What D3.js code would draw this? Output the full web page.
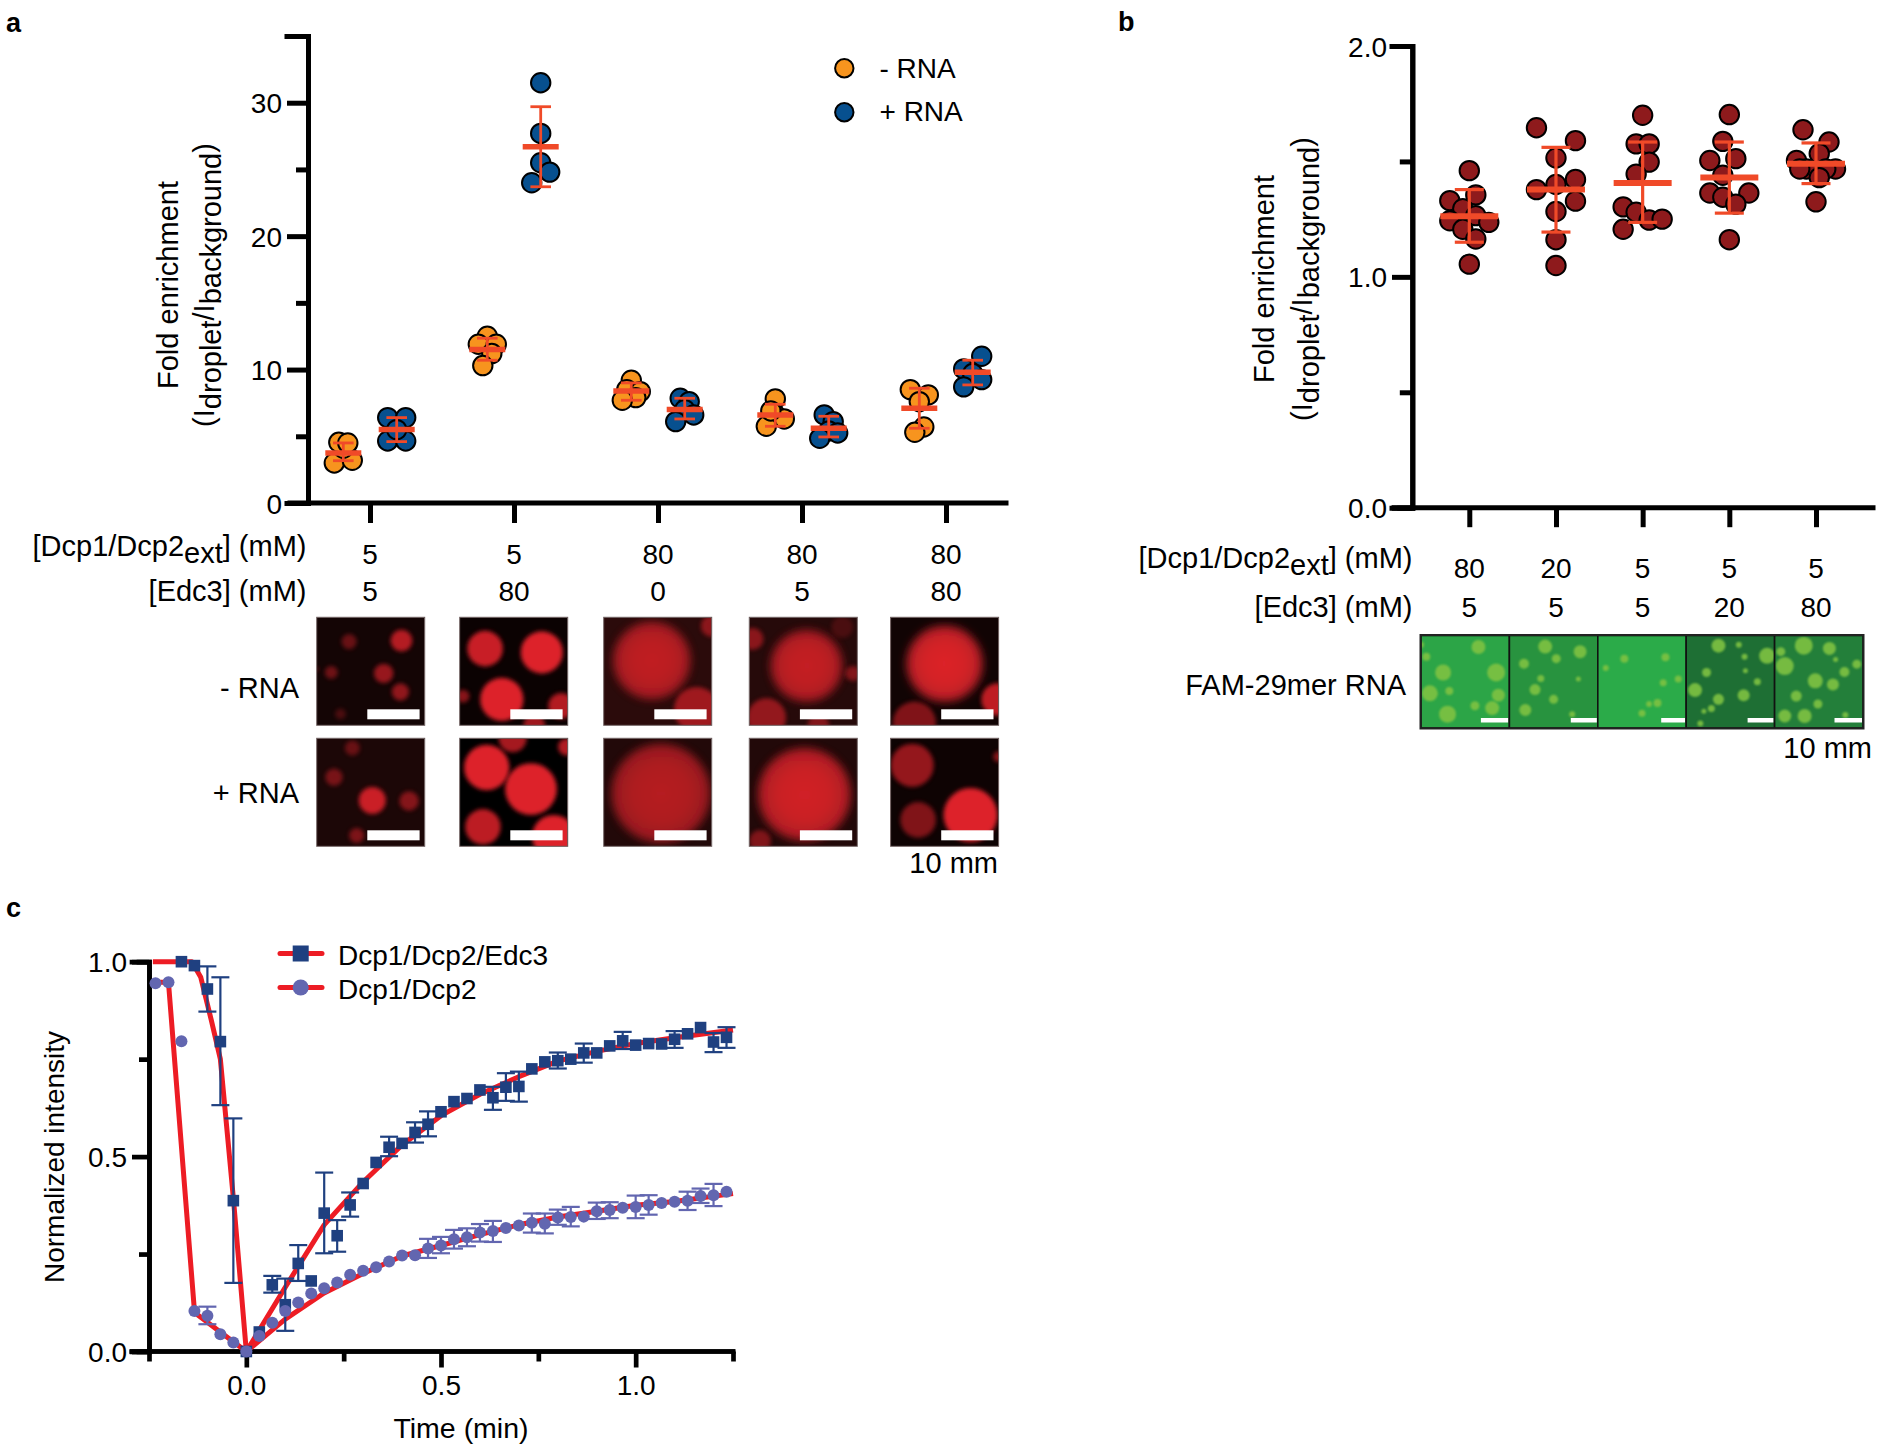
<!DOCTYPE html>
<html><head><meta charset="utf-8">
<script src="https://cdn.jsdelivr.net/npm/d3@7"></script>
<style>
html,body{margin:0;padding:0;background:#fff}
text{font-family:"Liberation Sans",Arial,sans-serif;fill:#000}
</style></head><body><svg id="fig" width="1882" height="1453"></svg>
<script>
// ---------- panel a ----------
const aDcp = ["5","5","80","80","80"];
const aEdc = ["5","80","0","5","80"];
const aSeries = ["- RNA","+ RNA"];
const aMinus = [[3.0,3.2,4.1,4.55,4.5],[12.5,11.9,11.9,11.2,10.3],[9.2,8.5,8.35,7.9,7.7],[7.8,6.6,6.3,5.75,6.9],[8.5,8.1,7.6,5.7,5.3]];
const aMinusSlot = [[-1,1,0,-.5,.5],[0,-1,1,.5,-.5],[0,-.5,1,.5,-1],[0,0,1,-1,-.5],[-1,1,0,.5,-.5]];
const aPlus = [[6.4,6.4,4.65,4.65,5.5],[31.5,27.7,25.5,24.8,24.0],[7.85,7.6,7.0,6.6,6.1],[6.6,6.1,5.4,5.25,4.85],[11,10.05,9.7,9.25,8.7]];
const aPlusSlot = [[-1,1,-1,1,0],[0,0,0,1,-1],[-.5,.5,0,1,-1],[-.5,.5,0,1,-1],[1,-1,0,1,-1]];
const aMinusMean = [3.75,11.5,8.4,6.6,7.1], aMinusHi = [4.5,12.35,9.0,7.4,8.6], aMinusLo = [3.17,10.7,7.7,5.75,5.6];
const aPlusMean = [5.5,26.7,7.0,5.6,9.8], aPlusHi = [6.4,29.7,7.85,6.5,10.7], aPlusLo = [4.6,23.7,6.3,4.95,8.85];
// ---------- panel b ----------
const bDcp = ["80","20","5","5","5"];
const bEdc = ["5","5","5","20","80"];
const bValues = [
 [1.46,1.33,1.355,1.295,1.265,1.243,1.236,1.206,1.164,1.055],
 [1.646,1.59,1.515,1.422,1.4,1.378,1.328,1.283,1.161,1.049],
 [1.70,1.576,1.576,1.497,1.445,1.303,1.28,1.246,1.25,1.206],
 [1.703,1.587,1.512,1.504,1.44,1.363,1.363,1.345,1.315,1.161],
 [1.637,1.584,1.534,1.504,1.467,1.467,1.467,1.467,1.43,1.325]];
const bSlot = [[0,-3,1,-1,1,-3,3,-1,1,0],[-3,3,0,3,0,-3,3,0,0,0],[0,-1,1,1,-1,-3,-1,1,3,-3],[0,-1,1,-3,-1,-3,3,-1,1,0],[-2,2,.5,-3,-1.5,3,-2.5,1.5,.5,0]];
const bMean = [1.263,1.378,1.407,1.43,1.49], bHi = [1.378,1.561,1.584,1.584,1.58], bLo = [1.15,1.194,1.236,1.276,1.404];
// ---------- panel c ----------
const cEdcTime = [-5,-4,-3,-2,-1,0,1,2,3,4,5,6,7,8,9,10,11,12,13,14,15,16,17,18,19,20,21,22,23,24,25,26,27,28,29,30,31,32,33,34,35,36,37].map(d=>d/30);
const cEdcVal = [1,.99,.93,.795,.387,0,.05,.171,.12,.226,.181,.355,.297,.376,.431,.485,.524,.534,.562,.583,.615,.641,.649,.671,.651,.678,.68,.725,.743,.746,.75,.766,.766,.784,.797,.786,.79,.789,.801,.815,.831,.794,.806];
const cDcpTime = [-7,-6,-5,-4,-3,-2,-1,0,1,2,3,4,5,6,7,8,9,10,11,12,13,14,15,16,17,18,19,20,21,22,23,24,25,26,27,28,29,30,31,32,33,34,35,36,37].map(d=>d/30);
const cDcpVal = [.945,.947,.796,.104,.092,.044,.023,0,.04,.074,.104,.126,.149,.162,.177,.197,.207,.216,.231,.246,.247,.264,.272,.288,.293,.305,.309,.317,.323,.33,.328,.344,.345,.346,.36,.363,.369,.371,.376,.381,.384,.387,.399,.401,.41];
const cEdcErr = [[-3,.988,.872],[-2,.96,.632],[-1,.598,.176],[2,.194,.151],[3,.187,.053],[4,.273,.181],[6,.459,.252],[7,.337,.256],[8,.408,.346],[11,.551,.501],[13,.588,.536],[14,.616,.552],[19,.679,.62],[20,.714,.643],[21,.718,.641],[24,.767,.726],[26,.79,.741],[29,.82,.776],[33,.822,.779],[36,.817,.768],[37,.832,.779]];
const cDcpErr = [[-3,.115,.07],[14,.289,.24],[15,.294,.252],[16,.312,.264],[17,.316,.27],[18,.327,.282],[19,.335,.281],[22,.354,.305],[23,.354,.303],[24,.364,.325],[25,.371,.321],[27,.382,.34],[28,.383,.342],[30,.4,.342],[31,.401,.351],[34,.41,.363],[35,.418,.381],[36,.43,.373]];
const cEdcFitT = [-.24,-.14,-.117,-.09,-.0667,-.033,0,.1,.2,.3,.4,.5,.6,.7,.8,.9,1,1.1,1.25];
const cEdcFitV = [1,1,.96,.85,.75,.39,0,.165,.325,.435,.53,.605,.66,.705,.745,.77,.79,.805,.825];
const cDcpFitT = [-.233,-.2,-.133,-.067,0,.1,.2,.3,.4,.5,.6,.7,.8,.9,1,1.1,1.25];
const cDcpFitV = [.947,.947,.1,.05,0,.083,.15,.2,.245,.272,.3,.325,.345,.36,.375,.385,.405];
// ---------- image insets: [x fraction, y fraction, radius fraction of width, brightness] ----------
const redBg = [["#140505","#0b0202","#2b0b0b","#260a0a","#110404"],["#1c0707","#000000","#220909","#220909","#0e0303"]];
const redDrops = [[
 [[.30,.225,.07,.42],[.785,.215,.1,.8],[.135,.51,.06,.45],[.62,.52,.09,.65],[.775,.69,.08,.62],[.22,.895,.05,.28],[0,.48,.02,.4]],
 [[.235,.29,.165,.9],[.76,.325,.195,1],[.39,.76,.2,1],[.03,.73,.06,.6],[.94,.82,.12,.8],[.69,1,.1,.7]],
 [[.445,.40,.36,.85],[.86,.855,.21,.65],[1,.08,.1,.55]],
 [[.53,.45,.335,.88],[.16,.93,.18,.6],[.03,.2,.1,.55],[.96,.52,.07,.5],[.86,.09,.1,.2],[.64,1,.1,.5]],
 [[.5,.43,.355,1],[.22,.98,.2,.55],[.99,.76,.15,.85]]
],[
 [[.33,.09,.07,.4],[.16,.36,.08,.48],[.515,.575,.125,.9],[.855,.58,.09,.55],[.37,.90,.07,.5]],
 [[.25,.27,.21,1],[.66,.47,.24,1],[.215,.82,.165,.85],[.49,0,.13,.75],[.99,.08,.08,.8],[.87,.91,.2,1]],
 [[.53,.51,.46,.8]],
 [[.51,.52,.43,.95],[.1,.95,.1,.5]],
 [[.2,.25,.2,.65],[.255,.755,.165,.55],[.74,.71,.25,1],[1,.17,.05,.6]]
]];
const greenBg = ["#2ca547","#28933f","#2bab49","#1e6f34","#237f3a"];
const greenDrops = [
 [[.65,.125,7],[.06,.23,4],[.25,.40,8],[.85,.40,9],[.1,.625,8],[.32,.6,4],[.875,.645,6.5],[.61,.76,4.5],[.805,.785,7],[.30,.85,8.5],[0,.1,3]],
 [[.405,.12,7],[.8,.175,6.5],[.53,.25,4.5],[.165,.305,5],[.355,.465,3.5],[.78,.47,2.5],[.29,.585,5.5],[.5,.69,4.5],[.18,.805,6],[.71,.85,3]],
 [[.3,.25,4],[.765,.235,4],[.09,.35,3],[.91,.47,3.5],[.74,.51,3.5],[.675,.73,4],[.58,.74,3],[.5,.84,3.5]],
 [[.365,.11,7],[.595,.10,3],[.915,.22,8],[.66,.23,3],[.23,.4,4.5],[.67,.38,2.5],[.805,.5,3.5],[.1,.59,7],[.65,.645,6],[.365,.69,5.5],[.285,.79,3.5],[.2,.82,2.5],[.16,.95,3]],
 [[.33,.11,9],[.62,.14,6.5],[.115,.33,9],[.07,.175,4.5],[.69,.26,2.5],[.93,.31,4.5],[.79,.395,5],[.46,.49,7.5],[.66,.53,6],[.245,.655,5.5],[.49,.74,4.5],[.115,.87,6.5],[.34,.87,7],[.8,.86,3]]];

const ORANGE="#f7941e", BLUE="#07508f", DKRED="#8e1a1c", ERR="#f04a28", FIT="#ed1c24", NAVY="#1f4080", PURP="#6266b0";
const FS=29, TICK=28;
const svg=d3.select("#fig");
const defs=svg.append("defs");
function blur(id,sd){defs.append("filter").attr("id",id).attr("x","-40%").attr("y","-40%").attr("width","180%").attr("height","180%").append("feGaussianBlur").attr("stdDeviation",sd);}
blur("blurS",2.1);blur("blurL",4);blur("blurG",1);
const grad=defs.append("radialGradient").attr("id","dropGrad");
[[0,"#dd2029"],[.6,"#d22027"],[1,"#ac1f24"]].forEach(s=>grad.append("stop").attr("offset",s[0]).attr("stop-color",s[1]));

function label(x,y,t,anchor="middle",size=FS,weight="normal"){
  return svg.append("text").attr("x",x).attr("y",y).attr("text-anchor",anchor).attr("font-size",size).attr("font-weight",weight).text(t);
}
function subLabel(x,y,parts,anchor="end",size=FS){
  const t=svg.append("text").attr("x",x).attr("y",y).attr("text-anchor",anchor).attr("font-size",size);
  parts.forEach(p=>{ t.append("tspan").attr("dy",p[1]||0).text(p[0]); });
  return t;
}
function yTitle(x1,x2,cy){
  svg.append("text").attr("transform",`translate(${x1},${cy}) rotate(-90)`).attr("text-anchor","middle").attr("font-size",FS).text("Fold enrichment");
  const t=svg.append("text").attr("transform",`translate(${x2},${cy}) rotate(-90)`).attr("text-anchor","middle").attr("font-size",FS);
  [["(I",0],["droplet",7],["/I",-7],["background",7],[")",-7]].forEach(p=>t.append("tspan").attr("dy",p[1]).text(p[0]));
}
function styleAxis(g,w){
  g.selectAll("path.domain").attr("stroke","#000").attr("stroke-width",w).attr("stroke-linecap","square");
  g.selectAll(".tick line").attr("stroke","#000").attr("stroke-width",w);
}
function yAxes(g,scale,major,minor,fmt,lenMajor,lenMinor,w,fs,pad){
  const a=g.append("g").call(d3.axisLeft(scale).tickValues(major).tickSizeOuter(0).tickSize(lenMajor).tickPadding(pad).tickFormat(fmt));
  styleAxis(a,w);
  a.attr("font-family",null);
  a.selectAll("text").attr("font-size",fs).attr("fill","#000").attr("dy",".36em");
  const m=g.append("g").call(d3.axisLeft(scale).tickValues(minor).tickSizeOuter(0).tickSize(lenMinor).tickFormat(""));
  styleAxis(m,w);
}
function errorBars(g,x,y,mean,hi,lo,capHalf,meanHalf,capW,meanW,color){
  x.forEach((cx,i)=>{
    g.append("line").attr("x1",cx).attr("x2",cx).attr("y1",y(hi[i])).attr("y2",y(lo[i])).attr("stroke",color).attr("stroke-width",capW);
    [hi[i],lo[i]].forEach(v=>g.append("line").attr("x1",cx-capHalf).attr("x2",cx+capHalf).attr("y1",y(v)).attr("y2",y(v)).attr("stroke",color).attr("stroke-width",capW));
    g.append("line").attr("x1",cx-meanHalf).attr("x2",cx+meanHalf).attr("y1",y(mean[i])).attr("y2",y(mean[i])).attr("stroke",color).attr("stroke-width",meanW);
  });
}

// ===== Panel a =====
label(6,32,"a","start",27,"bold");
{
  const y=d3.scaleLinear().domain([0,35]).range([503,36]);
  const xg=d3.scalePoint().domain(d3.range(aDcp.length)).range([370,946]);
  const off=d3.scalePoint().domain(aSeries).range([-26.7,26.7]);
  const slot=d3.scaleLinear().domain([0,1]).range([0,9]);
  const g=svg.append("g");
  const yg=g.append("g").attr("transform","translate(308,0)");
  yAxes(yg,y,[0,10,20,30],[5,15,25,35],d3.format("d"),21,12,5,TICK,5);
  const xA=g.append("g").attr("transform","translate(0,503)").call(d3.axisBottom(xg).tickSize(20).tickSizeOuter(0).tickFormat(""));
  styleAxis(xA,5);
  xA.select("path.domain").attr("d","M290,0H1006");
  [[aSeries[0],aMinus,aMinusSlot,ORANGE],[aSeries[1],aPlus,aPlusSlot,BLUE]].forEach(([s,vals,sl,col])=>{
    vals.forEach((arr,i)=>arr.forEach((v,j)=>{
      g.append("circle").attr("cx",xg(i)+off(s)+slot(sl[i][j])).attr("cy",y(v)).attr("r",9.7).attr("fill",col).attr("stroke","#000").attr("stroke-width",2);
    }));
  });
  errorBars(g,aMinus.map((_,i)=>xg(i)+off(aSeries[0])),y,aMinusMean,aMinusHi,aMinusLo,10.3,18,2.8,5.5,ERR);
  errorBars(g,aPlus.map((_,i)=>xg(i)+off(aSeries[1])),y,aPlusMean,aPlusHi,aPlusLo,10.3,18,2.8,5.5,ERR);
  yTitle(178,214,285);
  subLabel(306.5,556,[["[Dcp1/Dcp2"],["ext",7],["]",-7],[" (mM)"]]);
  label(306.5,601,"[Edc3] (mM)","end");
  aDcp.forEach((t,i)=>label(xg(i),564,t,"middle",TICK));
  aEdc.forEach((t,i)=>label(xg(i),601,t,"middle",TICK));
  // legend
  aSeries.forEach((s,i)=>{
    const cy=[68.3,112.3][i];
    g.append("circle").attr("cx",844.3).attr("cy",cy).attr("r",9.2).attr("fill",i?BLUE:ORANGE).attr("stroke","#000").attr("stroke-width",2);
    label(879.5,[77.7,121][i],s,"start",TICK);
  });
  // insets
  const colX=[316.7,459.7,603.7,749.3,890.6], rowY=[617.3,738.3], W=108, H=108;
  redDrops.forEach((row,r)=>row.forEach((cells,c)=>{
    const id=`cr${r}${c}`;
    defs.append("clipPath").attr("id",id).append("rect").attr("x",colX[c]).attr("y",rowY[r]).attr("width",W).attr("height",H);
    const p=svg.append("g").attr("clip-path",`url(#${id})`);
    p.append("rect").attr("x",colX[c]).attr("y",rowY[r]).attr("width",W).attr("height",H).attr("fill",redBg[r][c]);
    cells.forEach(d=>p.append("circle").attr("cx",colX[c]+d[0]*W).attr("cy",rowY[r]+d[1]*H).attr("r",d[2]*W).attr("fill",d[2]>.3?"url(#dropGrad)":"#dd2029").attr("opacity",d[3]).attr("filter",d[2]>.3?"url(#blurL)":"url(#blurS)"));
    svg.append("rect").attr("x",colX[c]).attr("y",rowY[r]).attr("width",W).attr("height",H).attr("fill","none").attr("stroke","#6a5a5a").attr("stroke-width",1);
    svg.append("rect").attr("x",colX[c]+50.6).attr("y",rowY[r]+92).attr("width",52.3).attr("height",10).attr("fill","#fff");
  }));
  label(299,698,aSeries[0],"end",FS);
  label(299,803,aSeries[1],"end",FS);
  label(998,873,"10 mm","end",FS);
}

// ===== Panel b =====
label(1118,31,"b","start",27,"bold");
{
  const y=d3.scaleLinear().domain([0,2]).range([507.7,46]);
  const xg=d3.scalePoint().domain(d3.range(bDcp.length)).range([1469.3,1816]);
  const slot=d3.scaleLinear().domain([0,1]).range([0,6.5]);
  const g=svg.append("g");
  const yg=g.append("g").attr("transform","translate(1412.3,0)");
  yAxes(yg,y,[0,1,2],[.5,1.5],d3.format(".1f"),20.3,12.5,5,TICK,5);
  const xA=g.append("g").attr("transform","translate(0,507.7)").call(d3.axisBottom(xg).tickSize(19.5).tickSizeOuter(0).tickFormat(""));
  styleAxis(xA,5);
  xA.select("path.domain").attr("d","M1394,0H1873");
  bValues.forEach((arr,i)=>arr.forEach((v,j)=>{
    g.append("circle").attr("cx",xg(i)+slot(bSlot[i][j])).attr("cy",y(v)).attr("r",9.7).attr("fill",DKRED).attr("stroke","#000").attr("stroke-width",2);
  }));
  errorBars(g,bValues.map((_,i)=>xg(i)),y,bMean,bHi,bLo,14.5,29,3.2,6,ERR);
  yTitle(1274,1312,279);
  subLabel(1412.5,568,[["[Dcp1/Dcp2"],["ext",7],["]",-7],[" (mM)"]]);
  label(1412.5,617,"[Edc3] (mM)","end");
  bDcp.forEach((t,i)=>label(xg(i),578,t,"middle",TICK));
  bEdc.forEach((t,i)=>label(xg(i),617,t,"middle",TICK));
  label(1406,695,"FAM-29mer RNA","end");
  label(1872,758,"10 mm","end");
  const X0=1421, W=88.4, Y0=635.5, H=92.5;
  greenDrops.forEach((cells,c)=>{
    const id=`cg${c}`, x=X0+c*W;
    defs.append("clipPath").attr("id",id).append("rect").attr("x",x).attr("y",Y0).attr("width",W).attr("height",H);
    const p=svg.append("g").attr("clip-path",`url(#${id})`);
    p.append("rect").attr("x",x).attr("y",Y0).attr("width",W).attr("height",H).attr("fill",greenBg[c]);
    cells.forEach(d=>p.append("circle").attr("cx",x+d[0]*W).attr("cy",Y0+d[1]*H).attr("r",d[2]).attr("fill","#7fc242").attr("opacity",.9).attr("filter","url(#blurG)"));
    const bw=c==2?24:c==1||c==3?26:27.5;
    svg.append("rect").attr("x",x+W-bw-1).attr("y",718).attr("width",bw).attr("height",4.5).attr("fill","#fff");
    svg.append("rect").attr("x",x).attr("y",Y0).attr("width",W).attr("height",H).attr("fill","none").attr("stroke","#111").attr("stroke-width",1.6);
  });
  svg.append("rect").attr("x",X0-.5).attr("y",Y0-.5).attr("width",W*5+1).attr("height",H+1).attr("fill","none").attr("stroke","#222").attr("stroke-width",2);
}

// ===== Panel c =====
label(6,917,"c","start",27,"bold");
{
  const x=d3.scaleLinear().domain([-.25,1.25]).range([149,733]);
  const y=d3.scaleLinear().domain([0,1]).range([1351.5,961.7]);
  const g=svg.append("g");
  const yg=g.append("g").attr("transform","translate(149,0)");
  yAxes(yg,y,[0,.5,1],[.25,.75],d3.format(".1f"),17,10,4.7,TICK,5);
  const xM=g.append("g").attr("transform","translate(0,1351.5)").call(d3.axisBottom(x).tickValues([0,.5,1]).tickSize(16).tickPadding(8).tickSizeOuter(0).tickFormat(d3.format(".1f")));
  styleAxis(xM,4.7);
  xM.attr("font-family",null);
  xM.selectAll("text").attr("font-size",TICK).attr("fill","#000");
  const xm=g.append("g").attr("transform","translate(0,1351.5)").call(d3.axisBottom(x).tickValues([-.25,.25,.75,1.25]).tickSize(10).tickSizeOuter(0).tickFormat(""));
  styleAxis(xm,4.7);
  xM.select("path.domain").attr("d","M132,0H733");
  xm.select("path.domain").attr("d","M132,0H733");
  const line=d3.line().x(d=>x(d[0])).y(d=>y(d[1]));
  [[cEdcFitT,cEdcFitV],[cDcpFitT,cDcpFitV]].forEach(([t,v])=>{
    g.append("path").attr("d",line(t.map((d,i)=>[d,v[i]]))).attr("fill","none").attr("stroke",FIT).attr("stroke-width",5).attr("stroke-linejoin","round");
  });
  function errs(data,col){
    data.forEach(([f,hi,lo])=>{
      const px=x(f/30);
      g.append("line").attr("x1",px).attr("x2",px).attr("y1",y(hi)).attr("y2",y(lo)).attr("stroke",col).attr("stroke-width",2.2);
      [hi,lo].forEach(v=>g.append("line").attr("x1",px-9).attr("x2",px+9).attr("y1",y(v)).attr("y2",y(v)).attr("stroke",col).attr("stroke-width",2.2));
    });
  }
  errs(cEdcErr,NAVY);
  cEdcTime.forEach((t,i)=>g.append("rect").attr("x",x(t)-5.8).attr("y",y(cEdcVal[i])-5.8).attr("width",11.6).attr("height",11.6).attr("fill",NAVY));
  errs(cDcpErr,PURP);
  cDcpTime.forEach((t,i)=>g.append("circle").attr("cx",x(t)).attr("cy",y(cDcpVal[i])).attr("r",6).attr("fill",PURP));
  // legend
  [["Dcp1/Dcp2/Edc3",953.5,1],["Dcp1/Dcp2",987.5,0]].forEach(([s,ly,sq])=>{
    g.append("line").attr("x1",280).attr("x2",322).attr("y1",ly).attr("y2",ly).attr("stroke",FIT).attr("stroke-width",5).attr("stroke-linecap","round");
    if(sq) g.append("rect").attr("x",292.7).attr("y",ly-8).attr("width",16).attr("height",16).attr("fill",NAVY);
    else g.append("circle").attr("cx",300.7).attr("cy",ly).attr("r",8).attr("fill",PURP);
    label(338,ly+11.7,s,"start",28);
  });
  label(461,1438,"Time (min)","middle",28.5);
  svg.append("text").attr("transform","translate(64,1157) rotate(-90)").attr("text-anchor","middle").attr("font-size",28).text("Normalized intensity");
}
</script></body></html>
